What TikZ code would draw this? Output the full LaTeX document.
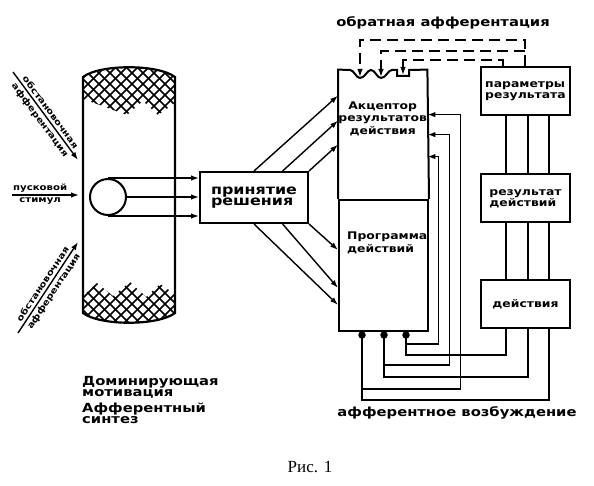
\documentclass[tikz,border=0pt]{standalone}
\usepackage{fontspec}
\setmainfont{Liberation Serif}
\newfontfamily\hand[FakeStretch=1.18]{DejaVu Sans Bold}
\usetikzlibrary{arrows.meta,calc}

\tikzset{
  stagebox/.style={draw, line width=2pt, minimum width=89pt, minimum height=48pt,
    inner sep=0pt, align=left, font=\fontsize{10.5}{11}\hand},
  wire/.style={line width=1.4pt},
  fbline/.style={line width=1.4pt, dash pattern=on 11pt off 6pt},
  hatchline/.style={line width=1.5pt},
  dot/.style={circle, fill, inner sep=0pt, minimum size=7.5pt},
  bigtxt/.style={font=\fontsize{12.5}{11}\hand, align=left, inner sep=0pt},
  boxtxt/.style={font=\fontsize{10.5}{12.5}\hand, align=center, inner sep=0pt},
  intxt/.style={font=\fontsize{8.6}{9}\hand, inner sep=2.4pt},
}

\begin{document}
\begin{tikzpicture}[x=1pt, y=-1pt, >={Latex[length=8pt,width=5.5pt]}]
  \useasboundingbox (0,0) rectangle (594,486);

  % afferent synthesis panel
  \draw[line width=2.2pt] (83,77) -- (83,313) .. controls (100,326) and (158,326) .. (175,313)
        -- (175,77) .. controls (158,64) and (100,64) .. (83,77) -- cycle;
  \begin{scope}
    \clip (83,77) .. controls (100,64) and (158,64) .. (175,77) -- (175,103) -- (158,115)
          -- (143,101) -- (127,115) -- (83,99) -- cycle;
    \foreach \k in {0,...,24} {
      \draw[hatchline] (\k*11,40) -- ++(100,100);
      \draw[hatchline] (\k*11,40) -- ++(-100,100);
    }
  \end{scope}
  \begin{scope}
    \clip (83,296) -- (97,283) -- (113,296) -- (130,282) -- (146,297) -- (160,284) -- (175,294)
          -- (175,313) .. controls (158,326) and (100,326) .. (83,313) -- cycle;
    \foreach \k in {0,...,28} {
      \draw[hatchline] (\k*11,260) -- ++(100,100);
      \draw[hatchline] (\k*11,260) -- ++(-100,100);
    }
  \end{scope}
  \node[circle, draw, line width=2pt, minimum size=36pt, inner sep=0pt] (stim) at (108,197) {};

  % inputs
  \coordinate (upin) at (13,72);   \coordinate (upend) at (78,160);
  \coordinate (midin) at (12,195); \coordinate (midend) at (79,195);
  \coordinate (lowin) at (18,333); \coordinate (lowend) at (78,242);
  \draw[wire,->] (upin) -- (upend)
    node[intxt, midway, sloped, above] {обстановочная}
    node[intxt, midway, sloped, below] {афферентация};
  \draw[wire,->] (midin) -- (midend)
    node[intxt, pos=0.42, above, inner sep=1.5pt] {пусковой}
    node[intxt, pos=0.42, below, inner sep=1.5pt] {стимул};
  \draw[wire,->] (lowin) -- (lowend)
    node[intxt, midway, sloped, above] {обстановочная}
    node[intxt, midway, sloped, below] {афферентация};

  % decision
  \node[stagebox, minimum width=108pt, minimum height=51pt, font=\fontsize{13.5}{11.5}\hand]
    (decision) at (254,197.5) {принятие\\решения};
  \draw[wire,->] (stim.north) -- (decision.west |- stim.north);
  \draw[wire,->] (stim.east) -- (decision.west |- stim.east);
  \draw[wire,->] (stim.south) -- (decision.west |- stim.south);

  % acceptor and program block
  \node[draw, line width=2pt, minimum width=89pt, minimum height=131pt, inner sep=0pt,
        anchor=north west] (program) at (338,199) {};
  \node[minimum width=89pt, minimum height=129pt, inner sep=0pt, anchor=south west]
    (acceptor) at (338,199) {};
  \draw[line width=2pt] (program.north west) -- (acceptor.north west) -- (350,70)
    .. controls (354,70) and (356,78) .. (360,78) .. controls (365,78) and (367,70) .. (371,70)
    .. controls (375,70) and (377,78) .. (381,78) .. controls (386,78) and (388,70) .. (392,70)
    -- (397,70) -- (397,76) -- (409,76) -- (409,70) -- (acceptor.north east) -- (program.north east);
  \coordinate (dip1) at (360,77);
  \coordinate (dip2) at (381,77);
  \coordinate (dip3) at (403,75);
  \node[boxtxt, anchor=north] at ($(acceptor.north)+(0,32)$) {Акцептор\\результатов\\действия};
  \node[boxtxt, align=left, anchor=north west] at ($(program.north west)+(9,33)$) {Программа\\действий};

  \draw[wire,->] ($(decision.north west)!0.5!(decision.north east)$) -- ($(acceptor.north west)+(0,26)$);
  \draw[wire,->] ($(decision.north west)!0.76!(decision.north east)$) -- ($(acceptor.north west)+(0,51)$);
  \draw[wire,->] (decision.north east) -- ($(acceptor.north west)+(0,75)$);
  \draw[wire,->] ($(decision.south west)!0.5!(decision.south east)$) -- ($(program.north west)+(0,106)$);
  \draw[wire,->] ($(decision.south west)!0.76!(decision.south east)$) -- ($(program.north west)+(0,89)$);
  \draw[wire,->] (decision.south east) -- ($(program.north west)+(0,51)$);

  % result chain
  \node[stagebox] (params) at (525.5,91) {параметры\\результата};
  \node[stagebox] (result) at (525.5,198.5) {результат\\действий};
  \node[stagebox] (action) at (525.5,304) {действия};
  \foreach \dx in {-19.5,2.5,23.5} {
    \draw[wire] ($(params.south)+(\dx,0)$) -- ($(result.north)+(\dx,0)$);
    \draw[wire] ($(result.south)+(\dx,0)$) -- ($(action.north)+(\dx,0)$);
  }

  % back afferentation
  \draw[fbline,->] ($(params.north)+(-0.5,0)$) -- ++(0,-26) -| (dip1);
  \draw[fbline,->] ($(params.north)+(-0.5,-15)$) -| (dip2);
  \draw[fbline,->] ($(params.north)+(-22.5,0)$) -- ++(0,-6) -| (dip3);
  \node[bigtxt] (fbtitle) at (443,23) {обратная афферентация};

  % afferent excitation
  \node[dot] (d1) at ($(program.south west)+(24,3)$) {};
  \node[dot] (d2) at ($(program.south west)+(46,3)$) {};
  \node[dot] (d3) at ($(program.south west)+(68,3)$) {};
  \draw[wire,->] (d1.center) -- ++(0,54) -| ($(acceptor.north east)+(33,45)$) -- ($(acceptor.north east)+(0,45)$);
  \draw[wire,->] (d2.center) -- ++(0,30) -| ($(acceptor.north east)+(22,65)$) -- ($(acceptor.north east)+(0,65)$);
  \draw[wire,->] (d3.center) -- ++(0,9) -| ($(acceptor.north east)+(11,87)$) -- ($(acceptor.north east)+(0,87)$);
  \draw[wire] (d1.center) -- ++(0,65) -| ($(action.south)+(23.5,0)$);
  \draw[wire] (d2.center) -- ++(0,42) -| ($(action.south)+(2.5,0)$);
  \draw[wire] (d3.center) -- ++(0,20) -| ($(action.south)+(-19.5,0)$);
  \node[bigtxt] (exctitle) at (457,413) {афферентное возбуждение};

  % captions
  \node[bigtxt, anchor=north west] (motiv) at (82,376) {Доминирующая\\мотивация};
  \node[bigtxt, anchor=north west] (synth) at (82,403) {Афферентный\\синтез};
  \node[font=\fontsize{17}{17}\selectfont] (fig) at (310,467) {Рис. 1};
\end{tikzpicture}
\end{document}
